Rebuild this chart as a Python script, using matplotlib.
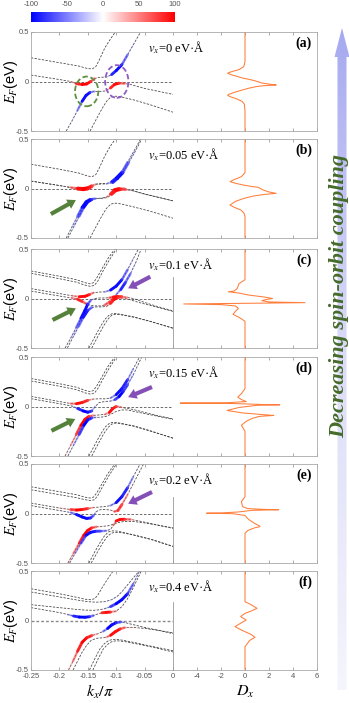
import numpy as np
import matplotlib
matplotlib.use("Agg")
import matplotlib.pyplot as plt
from matplotlib.collections import LineCollection
from matplotlib.colors import LinearSegmentedColormap, Normalize
from matplotlib.patches import Ellipse, Polygon

plt.rcParams['font.family'] = ['Liberation Sans', 'DejaVu Sans']
plt.rcParams['mathtext.fontset'] = 'stix'

# ---------------- data ----------------
panel_tags = ['(a)', '(b)', '(c)', '(d)', '(e)', '(f)']
vx_values = ['0', '0.05', '0.1', '0.15', '0.2', '0.4']
cbar_ticks = [-100, -50, 0, 50, 100]
k_ticks = [-0.25, -0.2, -0.15, -0.1, -0.05, 0]
k_ticklabels = ['-0.25', '-0.2', '-0.15', '-0.1', '-0.05', '0']
d_ticks = [-6, -4, -2, 0, 2, 4, 6]
d_ticklabels = ['', '-4', '-2', '0', '2', '4', '6']
e_ticks = [-0.5, 0, 0.5]
e_ticklabels = ['-0.5', '0', '0.5']

# bands: k/pi, energy (eV), spin polarisation (-100..100)
a_k = [
    [-0.25, -0.2, -0.165, -0.15, -0.142, -0.136, -0.13, -0.12, -0.11, -0.099],
    [-0.25, -0.2, -0.18, -0.17, -0.16, -0.152, -0.145, -0.138, -0.13, -0.117, -0.108, -0.1, -0.09, -0.08, -0.068, -0.057],
    [-0.188, -0.178, -0.168, -0.16, -0.153, -0.146, -0.138, -0.128, -0.118, -0.11, -0.103, -0.095, -0.085, -0.075, -0.05, -0.025, 0],
    [-0.146, -0.135, -0.125, -0.117, -0.11, -0.104, -0.097, -0.088, -0.07, -0.04, 0],
]
a_e = [
    [0.24, 0.19, 0.155, 0.13, 0.128, 0.15, 0.215, 0.34, 0.43, 0.52],
    [0.065, 0.02, 0.0, -0.022, -0.03, -0.025, 0.0, 0.03, 0.042, 0.045, 0.07, 0.11, 0.17, 0.27, 0.39, 0.5],
    [-0.5, -0.4, -0.29, -0.2, -0.14, -0.11, -0.1, -0.1, -0.095, -0.065, -0.03, -0.017, -0.02, -0.03, -0.07, -0.1, -0.13],
    [-0.5, -0.38, -0.275, -0.2, -0.16, -0.148, -0.15, -0.16, -0.185, -0.235, -0.31],
]
a_p = [
    [0, 0, 5, 15, 20, 25, 20, 10, 5, 5],
    [0, 5, 20, 80, 100, 100, 90, 60, 10, -10, -80, -100, -90, -60, -30, -20],
    [-20, -30, -50, -90, -100, -90, -40, 0, 20, 80, 100, 90, 60, 20, 5, 0, 0],
    [20, 25, 25, 20, 10, 0, -10, -10, 0, 0, 0],
]

b_k = [
    [-0.25, -0.2, -0.165, -0.15, -0.142, -0.136, -0.13, -0.12, -0.11, -0.099],
    [-0.25, -0.2, -0.18, -0.168, -0.158, -0.15, -0.143, -0.136, -0.128, -0.117, -0.108, -0.1, -0.09, -0.08, -0.068, -0.057],
    [-0.25, -0.2, -0.18, -0.168, -0.158, -0.15, -0.143, -0.136, -0.128, -0.117, -0.106, -0.098, -0.088, -0.078, -0.066, -0.055],
    [-0.188, -0.178, -0.168, -0.16, -0.153, -0.146, -0.138, -0.128, -0.118, -0.11, -0.103, -0.095, -0.085, -0.075, -0.05, -0.025, 0],
    [-0.185, -0.175, -0.165, -0.157, -0.15, -0.143, -0.136, -0.126, -0.116, -0.108, -0.1, -0.092, -0.083, -0.073, -0.05, -0.025, 0],
    [-0.146, -0.135, -0.125, -0.117, -0.11, -0.104, -0.097, -0.088, -0.07, -0.04, 0],
]
b_e = [
    [0.245, 0.195, 0.155, 0.125, 0.12, 0.14, 0.205, 0.33, 0.43, 0.52],
    [0.075, 0.03, 0.012, 0.004, 0.0, 0.008, 0.028, 0.045, 0.05, 0.05, 0.068, 0.105, 0.165, 0.265, 0.385, 0.5],
    [0.075, 0.03, 0.008, -0.006, -0.012, -0.004, 0.018, 0.038, 0.045, 0.046, 0.06, 0.1, 0.16, 0.26, 0.38, 0.5],
    [-0.5, -0.39, -0.28, -0.19, -0.135, -0.11, -0.1, -0.098, -0.09, -0.055, -0.012, 0.0, -0.003, -0.015, -0.055, -0.09, -0.125],
    [-0.5, -0.39, -0.28, -0.19, -0.135, -0.112, -0.103, -0.1, -0.092, -0.06, -0.02, -0.01, -0.012, -0.02, -0.057, -0.09, -0.125],
    [-0.5, -0.38, -0.275, -0.2, -0.16, -0.148, -0.15, -0.16, -0.185, -0.23, -0.3],
]
b_p = [
    [0, 0, 5, 15, 25, 30, 20, 10, 5, 5],
    [0, 10, 40, 90, 100, 100, 80, 30, 0, -20, -80, -100, -90, -60, -30, -15],
    [0, 10, 40, 90, 100, 100, 80, 30, 0, -20, -80, -100, -90, -60, -30, -15],
    [-20, -40, -60, -95, -100, -90, -40, 0, 20, 80, 100, 95, 60, 20, 5, 0, 0],
    [-20, -40, -60, -95, -100, -90, -40, 0, 20, 80, 100, 95, 60, 20, 5, 0, 0],
    [20, 25, 25, 20, 10, 0, -10, -10, 0, 0, 0],
]

c_k = [
    [-0.25, -0.2, -0.17, -0.155, -0.146, -0.14, -0.134, -0.125, -0.115, -0.105, -0.1],
    [-0.25, -0.2, -0.17, -0.155, -0.145, -0.138, -0.132, -0.123, -0.113, -0.103, -0.097],
    [-0.25, -0.2, -0.178, -0.165, -0.155, -0.147, -0.14, -0.13, -0.12, -0.11, -0.1, -0.09, -0.08, -0.07, -0.06],
    [-0.25, -0.2, -0.178, -0.168, -0.16, -0.152, -0.145, -0.137, -0.128, -0.12, -0.112, -0.106, -0.1, -0.092, -0.084, -0.075, -0.065, -0.056],
    [-0.19, -0.18, -0.17, -0.162, -0.155, -0.15, -0.145, -0.138, -0.13, -0.12, -0.112, -0.105, -0.098, -0.09, -0.08, -0.07, -0.05, -0.025, 0],
    [-0.186, -0.176, -0.166, -0.158, -0.15, -0.143, -0.135, -0.125, -0.117, -0.11, -0.104, -0.097, -0.09, -0.08, -0.06, -0.03, 0],
    [-0.148, -0.137, -0.127, -0.119, -0.112, -0.106, -0.099, -0.09, -0.07, -0.04, 0],
    [-0.143, -0.132, -0.122, -0.114, -0.108, -0.102, -0.095, -0.086, -0.068, -0.04, 0],
]
c_e = [
    [0.278, 0.225, 0.19, 0.16, 0.148, 0.16, 0.21, 0.3, 0.4, 0.48, 0.52],
    [0.255, 0.2, 0.165, 0.135, 0.122, 0.135, 0.18, 0.28, 0.38, 0.47, 0.52],
    [0.1, 0.05, 0.028, 0.018, 0.022, 0.04, 0.058, 0.065, 0.067, 0.085, 0.125, 0.19, 0.29, 0.4, 0.51],
    [0.075, 0.025, 0.005, -0.008, -0.03, -0.055, -0.07, -0.075, -0.075, -0.065, -0.035, 0.0, 0.04, 0.09, 0.16, 0.25, 0.37, 0.5],
    [-0.5, -0.4, -0.29, -0.2, -0.12, -0.056, -0.02, 0.0, 0.005, 0.005, 0.008, 0.015, 0.02, 0.018, 0.01, 0.0, -0.04, -0.085, -0.125],
    [-0.5, -0.39, -0.28, -0.19, -0.12, -0.09, -0.085, -0.085, -0.08, -0.05, -0.01, 0.01, 0.008, -0.005, -0.04, -0.085, -0.13],
    [-0.5, -0.38, -0.275, -0.205, -0.165, -0.152, -0.153, -0.162, -0.185, -0.23, -0.3],
    [-0.5, -0.38, -0.275, -0.205, -0.17, -0.16, -0.162, -0.17, -0.19, -0.232, -0.3],
]
c_p = [
    [0, 0, 0, 10, 20, 20, 15, 10, 5, 0, 0],
    [0, 0, 0, 10, 25, 30, 20, 10, 5, 5, 0],
    [0, 5, 30, 90, 100, 90, 50, 0, -30, -90, -100, -90, -60, -35, -20],
    [0, 5, 40, 90, 90, 60, 20, 0, 10, 60, 90, 60, -40, -90, -90, -60, -30, -15],
    [-20, -40, -60, -90, -100, -90, -60, -20, 0, 20, 60, 90, 100, 80, 50, 20, 5, 0, 0],
    [-20, -40, -60, -90, -95, -60, -10, 0, 30, 80, 100, 90, 60, 30, 5, 0, 0],
    [20, 25, 25, 20, 10, 0, -10, -10, 0, 0, 0],
    [15, 20, 20, 15, 5, 0, -10, -5, 0, 0, 0],
]

d_k = [
    [-0.25, -0.2, -0.17, -0.155, -0.146, -0.14, -0.134, -0.125, -0.115, -0.105, -0.1],
    [-0.25, -0.2, -0.17, -0.155, -0.145, -0.138, -0.132, -0.123, -0.113, -0.103, -0.097],
    [-0.25, -0.2, -0.18, -0.17, -0.16, -0.15, -0.14, -0.13, -0.12, -0.11, -0.1, -0.09, -0.08, -0.07, -0.058],
    [-0.25, -0.2, -0.178, -0.168, -0.158, -0.15, -0.143, -0.137, -0.13, -0.12, -0.11, -0.102, -0.095, -0.088, -0.08, -0.07, -0.055],
    [-0.19, -0.18, -0.17, -0.162, -0.155, -0.148, -0.14, -0.13, -0.12, -0.112, -0.106, -0.1, -0.092, -0.085, -0.07, -0.05, -0.025, 0],
    [-0.185, -0.175, -0.165, -0.157, -0.15, -0.143, -0.136, -0.127, -0.118, -0.11, -0.1, -0.09, -0.08, -0.06, -0.03, 0],
    [-0.148, -0.137, -0.127, -0.119, -0.112, -0.106, -0.099, -0.09, -0.07, -0.04, 0],
    [-0.143, -0.132, -0.122, -0.114, -0.108, -0.102, -0.095, -0.086, -0.068, -0.04, 0],
]
d_e = [
    [0.283, 0.23, 0.195, 0.163, 0.15, 0.162, 0.21, 0.3, 0.4, 0.48, 0.52],
    [0.258, 0.205, 0.17, 0.138, 0.124, 0.137, 0.185, 0.28, 0.38, 0.47, 0.52],
    [0.102, 0.05, 0.03, 0.028, 0.04, 0.062, 0.075, 0.078, 0.077, 0.085, 0.12, 0.18, 0.27, 0.38, 0.51],
    [0.079, 0.028, 0.005, -0.02, -0.045, -0.058, -0.045, 0.0, 0.04, 0.05, 0.055, 0.07, 0.1, 0.15, 0.22, 0.32, 0.5],
    [-0.5, -0.39, -0.28, -0.19, -0.13, -0.1, -0.09, -0.085, -0.08, -0.06, -0.02, 0.0, -0.005, -0.015, -0.03, -0.06, -0.095, -0.125],
    [-0.5, -0.39, -0.28, -0.19, -0.135, -0.115, -0.11, -0.108, -0.1, -0.08, -0.05, -0.035, -0.035, -0.06, -0.095, -0.13],
    [-0.5, -0.38, -0.275, -0.205, -0.17, -0.16, -0.162, -0.172, -0.195, -0.245, -0.32],
    [-0.5, -0.38, -0.275, -0.21, -0.178, -0.168, -0.17, -0.18, -0.2, -0.248, -0.32],
]
d_p = [
    [0, 0, 0, 10, 20, 20, 15, 10, 5, 0, 0],
    [0, 0, 0, 10, 25, 30, 20, 10, 5, 5, 0],
    [0, 10, 50, 90, 100, 80, 30, 0, -10, -40, -90, -100, -80, -40, -20],
    [0, 10, -20, -80, -100, -100, -80, -30, 0, 0, -30, -70, -100, -100, -70, -40, -20],
    [30, 50, 70, 100, 100, 90, 50, 20, 40, 90, 100, 80, 50, 30, 10, 0, 0, 0],
    [-30, -50, -70, -100, -100, -80, -40, -10, 0, 20, 30, 20, 10, 0, 0, 0],
    [15, 20, 20, 15, 5, 0, -10, -5, 0, 0, 0],
    [-10, -15, -15, -10, 0, 5, 10, 5, 0, 0, 0],
]

e_k = [
    [-0.25, -0.2, -0.17, -0.155, -0.146, -0.14, -0.134, -0.125, -0.115, -0.105, -0.1],
    [-0.25, -0.2, -0.17, -0.155, -0.145, -0.138, -0.132, -0.123, -0.113, -0.103, -0.097],
    [-0.25, -0.2, -0.18, -0.17, -0.16, -0.15, -0.14, -0.13, -0.12, -0.11, -0.1, -0.09, -0.08, -0.07, -0.058],
    [-0.25, -0.2, -0.18, -0.17, -0.16, -0.152, -0.145, -0.14, -0.135, -0.128, -0.12, -0.11, -0.103, -0.097, -0.09, -0.08, -0.07, -0.05],
    [-0.185, -0.175, -0.165, -0.157, -0.15, -0.143, -0.135, -0.125, -0.115, -0.105, -0.095, -0.085, -0.07, -0.05, -0.025, 0],
    [-0.182, -0.172, -0.162, -0.153, -0.145, -0.137, -0.128, -0.118, -0.11, -0.105, -0.1, -0.093, -0.085, -0.075, -0.06, -0.04, -0.02, 0],
    [-0.148, -0.138, -0.128, -0.12, -0.113, -0.106, -0.098, -0.088, -0.07, -0.04, 0],
    [-0.144, -0.134, -0.124, -0.116, -0.109, -0.102, -0.094, -0.084, -0.066, -0.036, 0],
]
e_e = [
    [0.27, 0.22, 0.19, 0.165, 0.156, 0.165, 0.21, 0.3, 0.4, 0.48, 0.52],
    [0.24, 0.19, 0.16, 0.14, 0.13, 0.14, 0.185, 0.28, 0.38, 0.47, 0.52],
    [0.105, 0.055, 0.04, 0.035, 0.04, 0.05, 0.06, 0.065, 0.07, 0.08, 0.11, 0.17, 0.26, 0.37, 0.5],
    [0.08, 0.03, 0.01, -0.01, -0.035, -0.05, -0.045, -0.02, 0.02, 0.038, 0.04, 0.035, 0.02, 0.03, 0.09, 0.19, 0.3, 0.52],
    [-0.5, -0.4, -0.3, -0.22, -0.17, -0.145, -0.135, -0.13, -0.125, -0.11, -0.09, -0.08, -0.08, -0.095, -0.12, -0.15],
    [-0.5, -0.4, -0.3, -0.22, -0.19, -0.18, -0.178, -0.175, -0.16, -0.12, -0.075, -0.06, -0.058, -0.06, -0.075, -0.1, -0.125, -0.145],
    [-0.5, -0.39, -0.29, -0.22, -0.185, -0.175, -0.178, -0.19, -0.215, -0.26, -0.33],
    [-0.5, -0.4, -0.3, -0.235, -0.2, -0.19, -0.192, -0.2, -0.222, -0.265, -0.335],
]
e_p = [
    [0, 0, 0, 10, 20, 20, 15, 10, 5, 0, 0],
    [0, 0, 0, 10, 20, 25, 20, 10, 5, 5, 0],
    [0, 20, 70, 100, 100, 80, 40, 10, 0, -40, -90, -100, -80, -50, -20],
    [0, -10, -50, -90, -100, -100, -90, -70, -30, 0, 0, 20, 60, 90, 80, 50, 30, 10],
    [40, 60, 80, 100, 100, 90, 60, 30, 10, 0, 0, 0, 0, 0, 0, 0],
    [-30, -50, -70, -90, -100, -90, -80, -60, -20, 40, 90, 100, 90, 60, 20, 0, 0, 0],
    [-15, -20, -20, -15, -5, 0, 5, 5, 0, 0, 0],
    [15, 20, 20, 15, 5, 0, -5, -5, 0, 0, 0],
]

f_k = [
    [-0.25, -0.2, -0.17, -0.155, -0.145, -0.138, -0.132, -0.125, -0.115, -0.103],
    [-0.25, -0.2, -0.17, -0.15, -0.135, -0.12, -0.108, -0.098, -0.09, -0.08, -0.07, -0.058],
    [-0.25, -0.2, -0.17, -0.155, -0.14, -0.13, -0.12, -0.11, -0.1, -0.09, -0.08, -0.07, -0.058],
    [-0.25, -0.2, -0.185, -0.175, -0.165, -0.155, -0.147, -0.14, -0.133, -0.125, -0.118, -0.11, -0.1, -0.09, -0.08, -0.07, -0.055],
    [-0.184, -0.176, -0.168, -0.16, -0.152, -0.143, -0.133, -0.123, -0.115, -0.108, -0.1, -0.092, -0.085, -0.075, -0.05, -0.025, 0],
    [-0.176, -0.168, -0.16, -0.152, -0.144, -0.135, -0.125, -0.117, -0.11, -0.102, -0.093, -0.085, -0.07, -0.05, -0.025, 0],
    [-0.147, -0.138, -0.129, -0.121, -0.114, -0.107, -0.1, -0.09, -0.07, -0.04, 0],
    [-0.141, -0.132, -0.123, -0.115, -0.108, -0.101, -0.093, -0.083, -0.065, -0.035, 0],
]
f_e = [
    [0.321, 0.27, 0.235, 0.215, 0.21, 0.22, 0.26, 0.33, 0.42, 0.52],
    [0.288, 0.238, 0.208, 0.19, 0.185, 0.19, 0.21, 0.245, 0.29, 0.36, 0.43, 0.51],
    [0.16, 0.13, 0.112, 0.105, 0.103, 0.108, 0.12, 0.14, 0.17, 0.21, 0.27, 0.37, 0.51],
    [0.13, 0.08, 0.06, 0.045, 0.035, 0.033, 0.038, 0.05, 0.065, 0.078, 0.082, 0.085, 0.095, 0.14, 0.22, 0.33, 0.51],
    [-0.5, -0.41, -0.31, -0.22, -0.175, -0.152, -0.135, -0.11, -0.08, -0.045, -0.022, -0.015, -0.02, -0.035, -0.07, -0.1, -0.133],
    [-0.5, -0.41, -0.32, -0.25, -0.2, -0.18, -0.175, -0.168, -0.15, -0.115, -0.085, -0.072, -0.07, -0.08, -0.1, -0.125],
    [-0.5, -0.39, -0.29, -0.235, -0.205, -0.192, -0.19, -0.198, -0.22, -0.258, -0.305],
    [-0.5, -0.39, -0.29, -0.24, -0.215, -0.205, -0.207, -0.215, -0.235, -0.27, -0.318],
]
f_p = [
    [0, 0, 0, 10, 15, 20, 25, 25, 20, 15],
    [0, 0, 0, 5, -10, -30, -40, -40, -35, -30, -25, -20],
    [0, 0, 5, 10, 10, 0, -30, -70, -100, -100, -90, -60, -30],
    [0, -10, -40, -80, -100, -100, -90, -60, 0, 80, 100, 90, 40, 20, 10, 10, 10],
    [40, 60, 80, 100, 100, 80, 30, -40, -100, -100, -90, -70, -40, -10, 0, 0, 0],
    [-20, -25, -30, -30, -20, -10, 10, 40, 90, 100, 90, 60, 30, 10, 0, 0],
    [-20, -25, -25, -20, -10, 0, 10, 5, 0, 0, 0],
    [10, 20, 25, 20, 10, 0, 0, 0, 0, 0, 0],
]

# D_x curves: energy (eV) and value
dos_e_a = [0.5, 0.2, 0.15, 0.12, 0.1, 0.085, 0.07, 0.05, 0.035, 0.02, 0.005, -0.015, -0.03, -0.035, -0.042, -0.05,
           -0.065, -0.085, -0.11, -0.13, -0.14, -0.155, -0.17, -0.2, -0.23, -0.3, -0.5]
dos_d_a = [0, 0, -0.1, -0.5, -1.1, -1.45, -1.2, -0.6, -0.2, 0.4, 0.9, 1.4, 2.2, 2.6, 1.6, 1.0,
           0.4, -0.2, -0.9, -1.35, -1.45, -1.2, -0.8, -0.25, -0.05, 0, 0]
dos_e_b = [0.5, 0.16, 0.12, 0.09, 0.069, 0.05, 0.035, 0.02, 0.012, -0.015, -0.035, -0.049, -0.06, -0.076,
           -0.1, -0.13, -0.167, -0.19, -0.217, -0.25, -0.285, -0.5]
dos_d_b = [0, 0, -0.3, -0.9, -1.25, -0.7, -0.14, 0.6, 1.1, 1.5, 2.0, 2.6, 1.6, 0.7,
           -0.1, -0.8, -1.25, -0.9, -0.35, -0.08, 0, 0]
dos_e_c = [0.5, 0.19, 0.15, 0.1, 0.075, 0.068, 0.055, 0.035, 0.015, 0.0, -0.012, -0.022, -0.035, -0.042,
           -0.048, -0.055, -0.062, -0.075, -0.1, -0.13, -0.16, -0.19, -0.23, -0.5]
dos_d_c = [0, 0, -0.5, -0.65, -0.9, -1.4, -0.5, 0.3, 1.6, 2.3, 1.7, 1.4, 2.0, 5.0,
           0.5, -5.1, -2.0, -0.8, -0.55, -0.8, -1.0, -0.5, 0, 0]
dos_e_d = [0.5, 0.18, 0.13, 0.095, 0.07, 0.05, 0.038, 0.034, 0.03, 0.02, 0.017, 0.012, -0.01, -0.04,
           -0.065, -0.085, -0.09, -0.1, -0.12, -0.15, -0.19, -0.25, -0.5]
dos_d_d = [0, 0, -0.3, -0.6, -0.3, 0.1, -1.5, -5.4, -1.0, 1.5, 2.9, 1.0, -0.5, -1.5,
           -0.2, 1.8, 2.4, 1.2, 0.6, 0.1, -0.3, 0, 0]
dos_e_e = [0.5, 0.17, 0.12, 0.07, 0.05, 0.042, 0.038, 0.032, 0.015, 0.006, 0.003, -0.002, -0.02, -0.06,
           -0.1, -0.125, -0.133, -0.145, -0.17, -0.2, -0.5]
dos_d_e = [0, 0, -0.3, -0.2, 0.2, 1.5, 2.8, 0.6, -0.6, -2.0, -3.2, -1.0, 0.0, 0.3,
           0.8, 1.2, 1.25, 0.8, 0.25, 0, 0]
dos_e_f = [0.5, 0.19, 0.16, 0.123, 0.095, 0.072, 0.05, 0.039, 0.02, 0.005, -0.03, -0.062, -0.09, -0.113,
           -0.14, -0.17, -0.2, -0.264, -0.5]
dos_d_f = [0, 0, 0.5, 1.0, 0.5, 0.0, -0.25, -0.36, -0.1, 0.1, -0.4, -0.83, -0.4, 0.0,
           0.5, 0.83, 0.4, 0, 0]

band_k = [a_k, b_k, c_k, d_k, e_k, f_k]
band_e = [a_e, b_e, c_e, d_e, e_e, f_e]
band_p = [a_p, b_p, c_p, d_p, e_p, f_p]
dos_e = [dos_e_a, dos_e_b, dos_e_c, dos_e_d, dos_e_e, dos_e_f]
dos_d = [dos_d_a, dos_d_b, dos_d_c, dos_d_d, dos_d_e, dos_d_f]

# ---------------- layout (pixels) ----------------
W, H = 349, 703
row_tops = [32, 139, 249, 357, 464, 571]
row_h = 99
divider_top = {2: 0.22, 4: 0.17, 5: 0.19}
green_arrows = {1: ((-0.215, -0.258), (-0.171, -0.117)),
                2: ((-0.212, -0.217), (-0.171, -0.099)),
                3: ((-0.214, -0.245), (-0.172, -0.126))}
purple_arrows = {2: ((-0.040, 0.22), (-0.079, 0.103)),
                 3: ((-0.037, 0.197), (-0.079, 0.095)),
                 4: ((-0.037, 0.217), (-0.079, 0.099))}
GREEN = '#55823a'
PURPLE = '#8450b8'
TICK_GRAY = '#555555'
SPINE_GRAY = '#a8a8a8'

fig = plt.figure(figsize=(W / 100, H / 100), dpi=100)


def add_px_axes(x0, y0, x1, y1):
    return fig.add_axes([x0 / W, 1 - y1 / H, (x1 - x0) / W, (y1 - y0) / H])


cmap = plt.get_cmap('bwr')
norm = Normalize(-100, 100)


def draw_band(ax, k, e, p):
    k = np.asarray(k, float)
    e = np.asarray(e, float)
    p = np.asarray(p, float)
    ax.plot(k, e, color='#3a3a3a', lw=0.55, ls=(0, (3, 1.8)), zorder=2)
    pts = np.column_stack([k, e])
    segs = np.stack([pts[:-1], pts[1:]], axis=1)
    pm = 0.5 * (p[:-1] + p[1:])
    strength = np.clip(np.abs(pm) / 95, 0, 1)
    cols = cmap(norm(pm))
    cols[:, 3] = strength ** 1.6
    lws = 0.6 + 1.5 * np.clip((np.abs(pm) - 30) / 55, 0, 1)
    ax.add_collection(LineCollection(segs, colors=cols, linewidths=lws,
                                     capstyle='round', joinstyle='round', zorder=3))


def style_axes(ax):
    for s in ax.spines.values():
        s.set_color(SPINE_GRAY)
        s.set_linewidth(0.6)
    ax.tick_params(direction='in', length=2, width=0.5, color='#888888',
                   labelsize=5.5, labelcolor=TICK_GRAY, pad=1.5, top=True)


for i in range(6):
    top = row_tops[i]
    axb = add_px_axes(31, top, 173, top + row_h)
    axd = add_px_axes(173, top, 317, top + row_h)

    # band panel
    axb.set_xlim(-0.25, 0)
    axb.set_ylim(-0.5, 0.5)
    if i == 5:
        axb.axhline(0, color='#8a8a8a', lw=1.0, ls=(0, (2, 1.5)), zorder=1)
    else:
        axb.axhline(0, color='#555555', lw=0.6, ls=(0, (3, 2)), zorder=1)
    for k, e, p in zip(band_k[i], band_e[i], band_p[i]):
        draw_band(axb, k, e, p)
    style_axes(axb)
    axb.spines['right'].set_visible(False)
    axb.set_xticks(k_ticks)
    axb.set_yticks(e_ticks)
    axb.set_yticklabels(e_ticklabels)
    if i == 5:
        axb.set_xticklabels(k_ticklabels)
        axb.tick_params(axis='x', pad=2.5)
    else:
        axb.set_xticklabels([])

    if i in green_arrows:
        tail, tip = green_arrows[i]
        axb.annotate('', xy=tip, xytext=tail, zorder=6,
                     arrowprops=dict(arrowstyle='simple,head_width=0.75,head_length=0.6,tail_width=0.3',
                                     color=GREEN, lw=0, shrinkA=0, shrinkB=0))
    if i in purple_arrows:
        tail, tip = purple_arrows[i]
        axb.annotate('', xy=tip, xytext=tail, zorder=6,
                     arrowprops=dict(arrowstyle='simple,head_width=0.75,head_length=0.6,tail_width=0.3',
                                     color=PURPLE, lw=0, shrinkA=0, shrinkB=0))
    if i == 0:
        axb.add_patch(Ellipse((-0.152, -0.10), 0.041, 0.30, fill=False, ec='#5f9140',
                              lw=1.3, ls=(0, (3, 1.5)), zorder=5))
        axb.add_patch(Ellipse((-0.099, 0.0), 0.041, 0.33, fill=False, ec='#8e5cc4',
                              lw=1.3, ls=(0, (3, 1.5)), zorder=5))

    # D_x panel
    axd.set_xlim(-6, 6)
    axd.set_ylim(-0.5, 0.5)
    axd.plot(dos_d[i], dos_e[i], color='#ff7d3a', lw=0.75)
    style_axes(axd)
    axd.tick_params(left=False, labelleft=False)
    if i in divider_top:
        axd.spines['left'].set_bounds(-0.5, divider_top[i])
        axd.spines['left'].set_color('#999999')
    else:
        axd.spines['left'].set_visible(False)
    axd.set_xticks(d_ticks)
    axd.set_yticks(e_ticks)
    if i == 5:
        axd.set_xticklabels(d_ticklabels)
        axd.tick_params(axis='x', pad=2.5)
    else:
        axd.set_xticklabels([])

# colour bar
cax = add_px_axes(31, 12, 175, 22)
cax.imshow(np.linspace(-100, 100, 256)[None, :], cmap=cmap, norm=norm,
           aspect='auto', extent=[-100, 100, 0, 1])
cax.set_axis_off()

# overlay in pixel coordinates for texts and the big arrow
ov = fig.add_axes([0, 0, 1, 1])
ov.set_xlim(0, W)
ov.set_ylim(H, 0)
ov.set_axis_off()
ov.patch.set_alpha(0)

for v in cbar_ticks:
    ov.text(31 + (v + 100) / 200 * 144, 5, str(v), ha='center', va='center',
            fontsize=5.5, color=TICK_GRAY)

for i in range(6):
    top = row_tops[i]
    ov.text(312, top + 11, panel_tags[i], ha='right', va='center', fontsize=10,
            fontweight='bold', family='Liberation Serif')
    ov.text(148, top + 16, r'$v_x$=' + vx_values[i] + ' eV·Å', ha='left', va='center',
            fontsize=9, family='Liberation Serif',
            bbox=dict(boxstyle='square,pad=0.1', fc='white', ec='none'))
    ov.text(11, top + row_h / 2, r'$E_F$(eV)', ha='center', va='center', rotation=90,
            fontsize=10.5)

ov.text(100, 692, r'$k_x/\pi$', ha='center', va='center', fontsize=11.5)
ov.text(245, 692, r'$D_x$', ha='center', va='center', fontsize=11.5)

# gradient arrow on the right
arrow_pts = np.array([[342, 28], [349.5, 57], [346.5, 57], [346.5, 690],
                      [337.5, 690], [337.5, 57], [334.5, 57]])
arrow_patch = Polygon(arrow_pts, closed=True, fc='none', ec='none')
ov.add_patch(arrow_patch)
arrow_cmap = LinearSegmentedColormap.from_list('arrow', ['#a6aaf0', '#dcdcf8', '#f5f5fd'])
im = ov.imshow(np.linspace(0, 1, 256)[:, None], cmap=arrow_cmap, aspect='auto',
               extent=[333, 350, 690, 28], zorder=1)
im.set_clip_path(arrow_patch)
ov.set_xlim(0, W)
ov.set_ylim(H, 0)
ov.text(339, 296, 'Decreasing spin-orbit coupling', rotation=90, ha='center', va='center',
        color='#456b2b', fontsize=16, fontweight='bold', fontstyle='italic',
        family='Liberation Serif', zorder=2)

fig.savefig('out.png', dpi=100)
